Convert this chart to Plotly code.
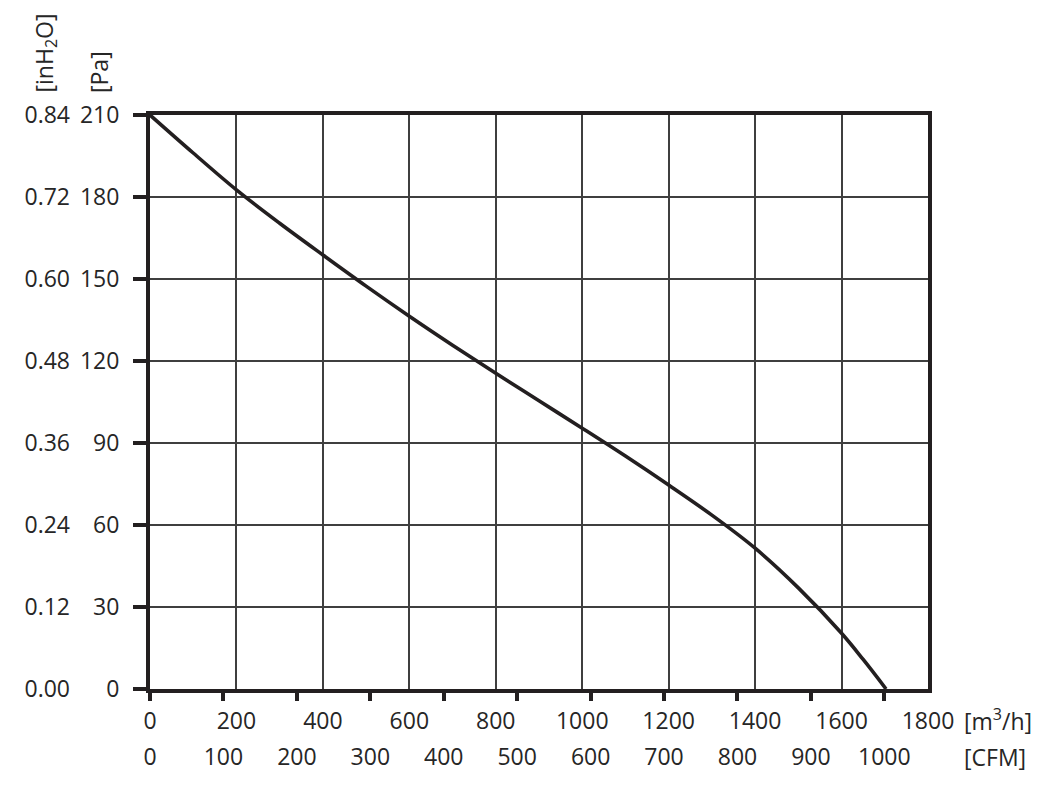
import plotly.graph_objects as go

# ---- data ----
flow_m3h = [0, 100, 200, 300, 400, 500, 600, 700, 800, 900, 1000, 1100, 1200, 1300, 1400, 1500, 1600, 1650, 1703]
pressure_pa = [210, 196.1, 182.6, 170.4, 158.8, 147.4, 136.4, 125.8, 115.5, 105.45, 95.4, 85.2, 74.6, 63.6, 51.5, 37.0, 20.4, 10.8, 0]

m3h_ticks = [0, 200, 400, 600, 800, 1000, 1200, 1400, 1600, 1800]
cfm_ticks = [0, 100, 200, 300, 400, 500, 600, 700, 800, 900, 1000]
pa_ticks = [0, 30, 60, 90, 120, 150, 180, 210]
inh2o_ticks = [0.00, 0.12, 0.24, 0.36, 0.48, 0.60, 0.72, 0.84]

M3H_TO_CFM = 0.588578
PA_MAX = 210
INH2O_MAX = 0.84
FLOW_MAX = 1800

INK = "#231f20"
TXT = "#262626"
GRID = "#3f3f3f"
FONT = "Open Sans"
FS = 23

fig = go.Figure()
fig.add_trace(go.Scatter(x=flow_m3h, y=pressure_pa, mode="lines",
                         line=dict(color=INK, width=3.6, shape="spline", smoothing=1.0),
                         showlegend=False, hoverinfo="skip", cliponaxis=False))
# invisible traces to activate secondary axes
fig.add_trace(go.Scatter(x=[0, FLOW_MAX * M3H_TO_CFM], y=[0, 0], xaxis="x2", yaxis="y",
                         mode="markers", marker=dict(opacity=0), showlegend=False, hoverinfo="skip"))
fig.add_trace(go.Scatter(x=[0, FLOW_MAX], y=[0, INH2O_MAX], xaxis="x", yaxis="y2",
                         mode="markers", marker=dict(opacity=0), showlegend=False, hoverinfo="skip"))

# the page body has an 8px margin, so the figure is sized to fit inside the window
fig.update_layout(
    width=1035, height=769,
    margin=dict(l=142, r=115, t=107, b=88, autoexpand=False),
    paper_bgcolor="white", plot_bgcolor="white",
    font=dict(family=FONT, size=FS, color=TXT),
    xaxis=dict(range=[0, FLOW_MAX], tickvals=m3h_ticks, ticktext=[str(v) for v in m3h_ticks],
               showgrid=True, gridcolor=GRID, gridwidth=2, zeroline=False, automargin=False,
               ticks="", showline=True, linecolor=INK, linewidth=4, mirror=True,
               ticklabelstandoff=8, tickfont=dict(family=FONT, size=FS, color=TXT)),
    xaxis2=dict(overlaying="x", side="bottom", range=[0, FLOW_MAX * M3H_TO_CFM],
                tickvals=cfm_ticks, ticktext=[str(v) for v in cfm_ticks],
                showgrid=False, zeroline=False, showline=False, automargin=False,
                ticks="outside", ticklen=11, tickwidth=3.5, tickcolor=INK,
                ticklabelstandoff=36, tickfont=dict(family=FONT, size=FS, color=TXT)),
    yaxis=dict(range=[0, PA_MAX], tickvals=pa_ticks, ticktext=[str(v) for v in pa_ticks],
               showgrid=True, gridcolor=GRID, gridwidth=2, zeroline=False, automargin=False,
               ticks="outside", ticklen=13, tickwidth=3.5, tickcolor=INK,
               showline=True, linecolor=INK, linewidth=4, mirror=True,
               ticklabelstandoff=9, tickfont=dict(family=FONT, size=FS, color=TXT)),
    yaxis2=dict(overlaying="y", side="left", range=[0, INH2O_MAX], tickvals=inh2o_ticks,
                ticktext=[f"{v:.2f}" for v in inh2o_ticks], automargin=False,
                showgrid=False, zeroline=False, showline=False, ticks="",
                ticklabelstandoff=79, tickfont=dict(family=FONT, size=FS, color=TXT)),
)

# unit labels
fig.add_annotation(text="[m<sup>3</sup>/h]", xref="paper", yref="paper", x=1.0, y=0,
                   xanchor="left", yanchor="middle", xshift=34, yshift=-31, showarrow=False,
                   font=dict(family=FONT, size=FS, color=TXT))
fig.add_annotation(text="[CFM]", xref="paper", yref="paper", x=1.0, y=0,
                   xanchor="left", yanchor="middle", xshift=34, yshift=-68, showarrow=False,
                   font=dict(family=FONT, size=FS, color=TXT))
fig.add_annotation(text="[inH<sub>2</sub>O]", xref="paper", yref="paper", x=0, y=1,
                   xanchor="center", yanchor="bottom", xshift=-105, yshift=20, textangle=-90,
                   showarrow=False, font=dict(family=FONT, size=FS, color=TXT))
fig.add_annotation(text="[Pa]", xref="paper", yref="paper", x=0, y=1,
                   xanchor="center", yanchor="bottom", xshift=-51, yshift=20, textangle=-90,
                   showarrow=False, font=dict(family=FONT, size=FS, color=TXT))

fig.write_html("out.html")
